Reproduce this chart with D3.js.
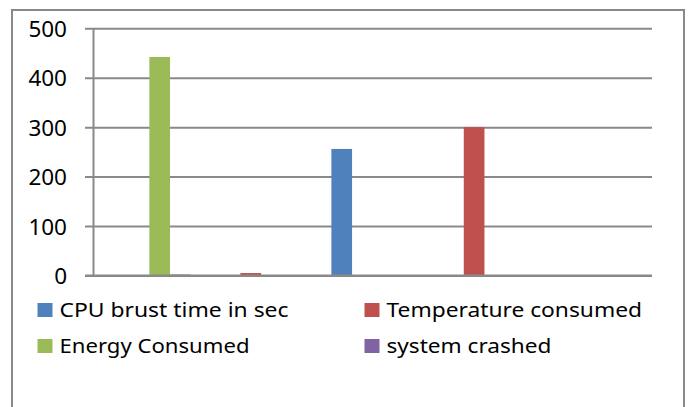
<!DOCTYPE html>
<html>
<head>
<meta charset="utf-8">
<script src="https://cdn.jsdelivr.net/npm/d3@7"></script>
<style>
  html, body { margin: 0; padding: 0; background: #fff; }
  svg { display: block; }
</style>
</head>
<body>
<svg id="chart" width="691" height="407"></svg>
<script>
// ---- data ----
const categories = ["1", "2", "3", "4", "5"];
const seriesNames = ["CPU brust time in sec", "Temperature consumed", "Energy Consumed", "system crashed"];
const cpuBurst = [0, 0, 256, 0, 0];
const temperature = [0, 5, 0, 300, 0];
const energy = [442, 0, 0, 0, 0];
const crashed = [2, 0, 0, 0, 0];
const yTicks = [0, 100, 200, 300, 400, 500];
const colors = ["#4f81bd", "#c0504d", "#9bbb59", "#8064a2"];

const seriesValues = [cpuBurst, temperature, energy, crashed];

const svg = d3.select("#chart");
const gridColor = "#898989";
const font = "'Noto Sans', 'Open Sans', sans-serif";

// outer frame
svg.append("rect")
  .attr("x", 12).attr("y", 10)
  .attr("width", 672).attr("height", 420)
  .attr("fill", "none")
  .attr("stroke", gridColor)
  .attr("stroke-width", 2);

const plotLeft = 93.5, plotRight = 652, yTop = 28.3, yBottom = 275.5;

const x0 = d3.scaleBand().domain(categories).range([plotLeft, plotRight]).paddingInner(0).paddingOuter(0);
const x1 = d3.scaleBand().domain(seriesNames).range([0, x0.bandwidth()]).paddingInner(0).paddingOuter(0.7);
const y = d3.scaleLinear().domain([0, 500]).range([yBottom, yTop]);

// gridlines (including tick marks to the left of the axis)
const yAxis = d3.axisLeft(y).tickValues(yTicks).tickSize(-(plotRight - 85)).tickPadding(0).tickFormat(d3.format("d"));
const gAxis = svg.append("g").attr("transform", `translate(85,0)`).call(yAxis);
gAxis.select(".domain").remove();
gAxis.selectAll(".tick line").attr("stroke", gridColor).attr("stroke-width", 2);
gAxis.selectAll(".tick text")
  .attr("x", -18)
  .attr("dy", "0.36em")
  .attr("fill", "#000")
  .style("font-family", font)
  .style("font-size", "22.5px");

// vertical axis line
svg.append("line")
  .attr("x1", plotLeft).attr("x2", plotLeft)
  .attr("y1", y(500)).attr("y2", y(0))
  .attr("stroke", gridColor).attr("stroke-width", 2);

// bars
const rows = [];
categories.forEach((c, i) => {
  seriesNames.forEach((s, j) => {
    rows.push({ cat: c, series: s, value: seriesValues[j][i], color: colors[j] });
  });
});

svg.append("g").selectAll("rect")
  .data(rows.filter(d => d.value > 0))
  .join("rect")
  .attr("x", d => x0(d.cat) + x1(d.series))
  .attr("width", x1.bandwidth())
  .attr("y", d => y(d.value))
  .attr("height", d => y(0) - y(d.value))
  .attr("fill", d => d.color);

// redraw baseline on top
svg.append("line")
  .attr("x1", 85).attr("x2", plotRight)
  .attr("y1", y(0)).attr("y2", y(0))
  .attr("stroke", gridColor).attr("stroke-width", 2);

// legend
const legendPos = [
  { x: 37.5, y: 317, w: 229 },
  { x: 364.5, y: 317, w: 255.5 },
  { x: 37.5, y: 353, w: 190 },
  { x: 364.5, y: 353, w: 165 }
];
const lg = svg.append("g");
seriesNames.forEach((name, i) => {
  const p = legendPos[i];
  lg.append("rect")
    .attr("x", p.x).attr("y", p.y - 14)
    .attr("width", 15).attr("height", 14)
    .attr("fill", colors[i]);
  lg.append("text")
    .attr("x", p.x + 22).attr("y", p.y)
    .attr("textLength", p.w)
    .attr("lengthAdjust", "spacingAndGlyphs")
    .style("font-family", font)
    .style("font-size", "20px")
    .attr("fill", "#000")
    .text(name);
});
</script>
</body>
</html>
